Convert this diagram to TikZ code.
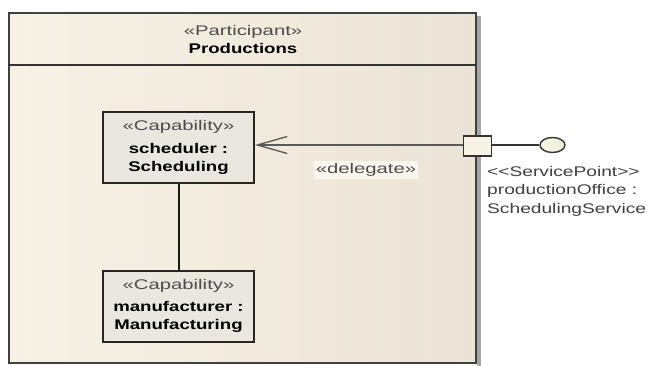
\documentclass[tikz,border=0pt]{standalone}
\usepackage{fontspec}
\setmainfont{Liberation Sans}[UprightFeatures={FakeStretch=1.45}, BoldFeatures={FakeStretch=1.33}]
\newfontfamily\spfont{Liberation Sans}[FakeStretch=1.37, Ligatures=TeXOff]
\usetikzlibrary{arrows.meta,shapes.geometric,positioning}
\definecolor{frameleft}{HTML}{F7F1E5}
\definecolor{frameright}{HTML}{EBE4D6}
\definecolor{partfill}{HTML}{EAE6E0}
\definecolor{portfill}{HTML}{F7F4E6}
\definecolor{ifacefill}{HTML}{F2F2DF}
\tikzset{
  frame/.style={draw=black!75, line width=1.6pt, left color=frameleft, right color=frameright, inner sep=0pt},
  partbox/.style={draw=black!85, line width=1.8pt, fill=partfill, minimum width=151pt, minimum height=71pt,
    inner sep=0pt, align=center},
  stereo/.style={text=black!70},
}
\begin{document}
\begin{tikzpicture}[x=1pt, y=-1pt, font=\fontsize{14}{18}\selectfont]
  \useasboundingbox (0,0) rectangle (651,366);
  \fill[white] (0,0) rectangle (651,366);
  \begin{scope}
    \pgfmathsetmacro{\w}{467}
    \pgfmathsetmacro{\h}{350}
    % shadow on the right of the participant
    \fill[black!35] (477,16) rectangle (480.5,366);
    \node[frame, minimum width=\w pt, minimum height=\h pt] (prod) at (242.5,188) {};
    \coordinate (hdr) at (0,65);
    \draw[line width=1.6pt, black!80] (prod.west |- hdr) -- (prod.east |- hdr);
    \node[align=center, inner sep=0pt] (title) at (243,39)
      {\textcolor{black!70}{«Participant»}\\\textbf{Productions}};

    \node[partbox] (sched) at (178.5,147.5)
      {\textcolor{black!70}{«Capability»}\\[5pt]\textbf{scheduler :}\\\textbf{Scheduling}};
    \node[partbox, below=86pt of sched] (manuf)
      {\textcolor{black!70}{«Capability»}\\[4pt]\textbf{manufacturer :}\\\textbf{Manufacturing}};
    \draw[line width=2pt, black!90] (sched) -- (manuf);

    \node[draw=black!80, line width=1.2pt, fill=portfill, minimum width=28pt, minimum height=20pt,
      inner sep=0pt] (port) at (477.5,146) {};
    \node[ellipse, draw=black!80, line width=1.4pt, fill=ifacefill, minimum width=25pt, minimum height=15pt,
      inner sep=0pt] (iface) at (552.5,145) {};
    \draw[line width=1.8pt, black!80] (port.east |- iface) -- (iface);
    \draw[line width=1.3pt, black!65, -{Straight Barb[length=30pt, width=17pt, line width=1.3pt]}]
      (port.west |- iface) -- (iface -| sched.east);
    \node[stereo, fill=white!35!frameleft, inner sep=2pt] (dlg) at (366,170) {«delegate»};
    \node[anchor=north west, align=left, inner sep=0pt, text=black!75, font=\spfont\fontsize{14}{18.5}\selectfont]
      (spt) at (487,166) {<<ServicePoint>>\\productionOffice :\\SchedulingService};
  \end{scope}
\end{tikzpicture}
\end{document}
